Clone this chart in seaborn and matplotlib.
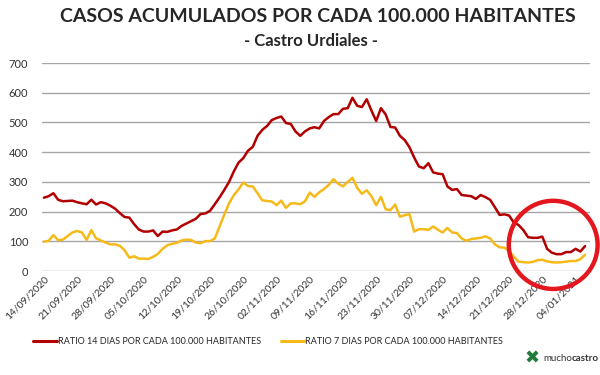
import pandas as pd
import matplotlib
matplotlib.use('Agg')
import matplotlib.pyplot as plt
from matplotlib.patches import Ellipse
import seaborn as sns

# datos (por 100.000 habitantes)
fechas = pd.date_range('2020-09-14', periods=115, freq='D')

ratio_14 = [247, 252, 262, 240, 235, 236, 237, 232, 228, 225,
            240, 224, 232, 228, 220, 210, 195, 182, 180, 158,
            140, 133, 133, 137, 118, 133, 132, 137, 140, 152,
            160, 168, 176, 192, 194, 203, 225, 248, 273, 300,
            335, 365, 380, 405, 418, 455, 475, 488, 508, 515,
            520, 498, 495, 470, 455, 470, 480, 484, 480, 505,
            518, 528, 528, 546, 548, 583, 556, 552, 578, 540,
            505, 548, 527, 485, 483, 455, 441, 417, 382, 352,
            346, 363, 332, 328, 326, 285, 273, 276, 256, 254,
            252, 243, 256, 249, 240, 215, 189, 191, 187, 163,
            155, 138, 114, 112, 112, 116, 75, 62, 57, 57,
            64, 64, 75, 66, 84]

ratio_7 = [99, 102, 121, 104, 106, 118, 130, 135, 130, 105,
           138, 110, 103, 96, 90, 90, 85, 70, 45, 50,
           42, 42, 41, 48, 58, 75, 87, 92, 95, 103,
           106, 105, 96, 94, 101, 101, 110, 150, 190, 228,
           255, 275, 298, 286, 285, 262, 238, 236, 234, 222,
           237, 213, 228, 228, 225, 235, 264, 250, 265, 276,
           290, 309, 294, 285, 300, 314, 280, 260, 272, 252,
           222, 250, 208, 205, 224, 183, 188, 192, 133, 141,
           141, 139, 150, 139, 130, 145, 130, 128, 110, 102,
           108, 110, 112, 117, 110, 90, 80, 79, 68, 48,
           32, 30, 29, 31, 37, 38, 33, 30, 29, 30,
           32, 34, 34, 40, 55]

serie_14 = "RATIO 14 DIAS POR CADA 100.000 HABITANTES"
serie_7 = "RATIO 7 DIAS POR CADA 100.000 HABITANTES"

df = pd.DataFrame({"dia": range(len(fechas)), serie_14: ratio_14, serie_7: ratio_7})
df_melted = df.melt(id_vars="dia", var_name="serie", value_name="ratio")

palette = {serie_14: "#B20000", serie_7: "#F5BA1A"}

sns.set_style("white")
plt.rcParams['font.family'] = ['Lato', 'DejaVu Sans']

fig = plt.figure(figsize=(6, 3.75), dpi=100)
ax = fig.add_axes([0.07, 0.277, 0.913, 0.555])

sns.lineplot(data=df_melted, x="dia", y="ratio", hue="serie", palette=palette,
             linewidth=1.8, ax=ax, legend=False)

ax.set_ylim(0, 700)
ax.set_yticks(range(0, 701, 100))
ax.set_xlim(-0.4, 115)
ticks = list(range(0, len(fechas), 7))
ax.set_xticks(ticks)
ax.set_xticklabels([fechas[i].strftime('%d/%m/%Y') for i in ticks], rotation=45,
                   ha='right', rotation_mode='anchor', fontsize=7.5, color='#333333')
ax.tick_params(axis='y', labelsize=8, colors='#333333', length=0, pad=10)
ax.tick_params(axis='x', length=0, pad=2)
ax.yaxis.grid(True, color='#A6A6A6', linewidth=1)
ax.set_axisbelow(True)
for s in ax.spines.values():
    s.set_visible(False)
ax.set_xlabel("")
ax.set_ylabel("")

fig.text(0.53, 0.957, "CASOS ACUMULADOS POR CADA 100.000 HABITANTES",
         ha='center', va='center', fontsize=14, fontweight='bold')
fig.text(0.518, 0.89, "- Castro Urdiales -", ha='center', va='center',
         fontsize=12, fontweight='bold')

# leyenda
handles = [plt.Line2D([], [], color=palette[serie_14], linewidth=2.2),
           plt.Line2D([], [], color=palette[serie_7], linewidth=2.2)]
fig.legend(handles, [serie_14, serie_7], loc='center', bbox_to_anchor=(0.447, 0.09),
           ncol=2, frameon=False, fontsize=6.5, handlelength=2.6, handletextpad=0.1,
           columnspacing=2.2)

# circulo rojo
fig.patches.append(Ellipse((0.922, 0.347), 0.148, 0.235, transform=fig.transFigure,
                           fill=False, edgecolor='#E4161E', linewidth=3.2))

# logo
fig.text(0.887, 0.044, "\u2716", color='#1E7B3A', fontsize=13, ha='center', va='center',
         family=['DejaVu Sans'])
fig.text(0.905, 0.044, "mucho", color='#333333', fontsize=7, ha='left', va='center')
fig.text(0.953, 0.044, "castro", color='#333333', fontsize=7, ha='left', va='center',
         fontweight='bold')

fig.savefig('out.png', dpi=100)
